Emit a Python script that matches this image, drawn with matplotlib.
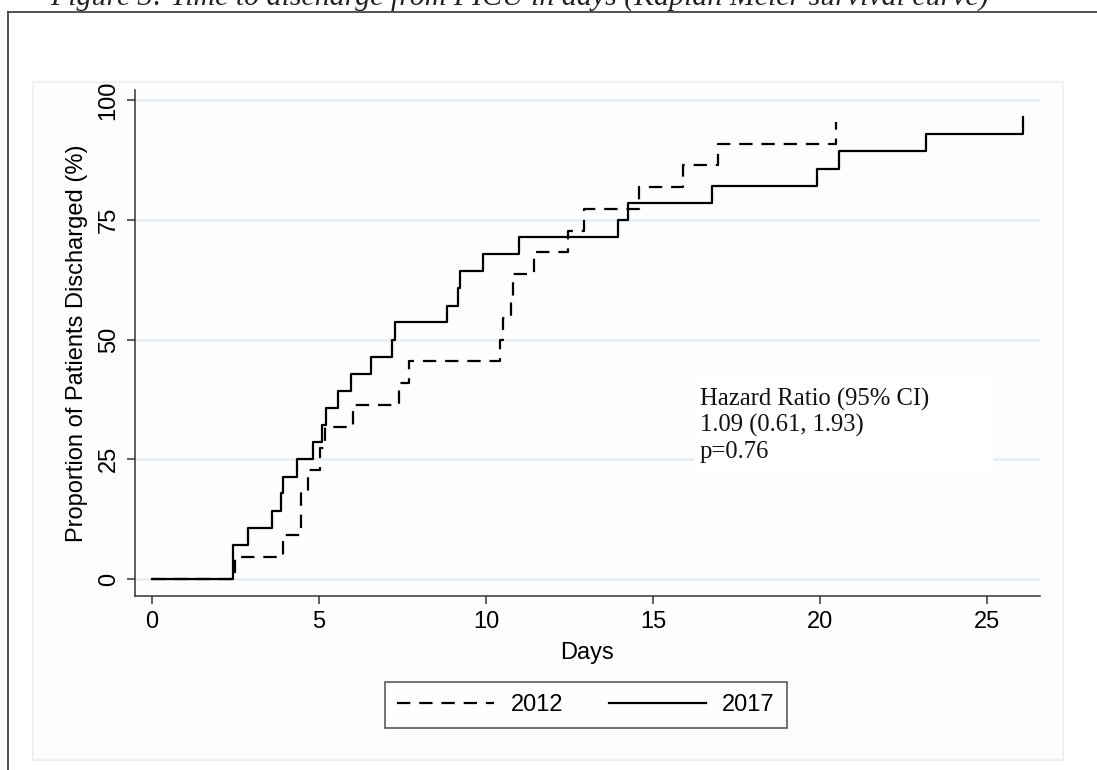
import matplotlib
matplotlib.use("Agg")
import matplotlib.pyplot as plt
from matplotlib.patches import Rectangle
import numpy as np

# Kaplan-Meier failure curves: proportion discharged (%) by day
days_2012 = [0, 2.5, 3.93, 4.46, 4.67, 5.03, 5.18, 6.03, 7.4, 7.7, 10.42, 10.5,
             10.75, 10.8, 11.45, 12.46, 12.93, 14.58, 15.9, 16.95, 20.48]
pct_2012 = [0, 4.5, 9.1, 18.2, 22.7, 27.3, 31.8, 36.4, 40.9, 45.5, 50.0, 54.5,
            59.1, 63.6, 68.2, 72.7, 77.3, 81.8, 86.4, 90.9, 95.5]

days_2017 = [0, 2.43, 2.87, 3.6, 3.86, 3.92, 4.33, 4.81, 5.09, 5.2, 5.57, 5.96,
             6.56, 7.19, 7.28, 8.83, 9.16, 9.22, 9.91, 10.99, 13.95, 14.25,
             16.77, 19.9, 20.57, 23.17, 26.08]
pct_2017 = [0, 7.1, 10.7, 14.3, 17.9, 21.4, 25.0, 28.6, 32.1, 35.7, 39.3, 42.9,
            46.4, 50.0, 53.6, 57.1, 60.7, 64.3, 67.9, 71.4, 75.0, 78.6,
            82.1, 85.7, 89.3, 92.9, 96.4]

xticks = [0, 5, 10, 15, 20, 25]
yticks = [0, 25, 50, 75, 100]
hr_text = "Hazard Ratio (95% CI)\n1.09 (0.61, 1.93)\np=0.76"

W, H = 1097, 770
plt.rcParams['font.family'] = ['Liberation Sans', 'DejaVu Sans']
fig = plt.figure(figsize=(W / 100, H / 100), dpi=100)

# outer frame (left and top edges visible)
fig.add_artist(plt.Line2D([8 / W, 8 / W], [0, 1 - 12 / H], color='#333333', lw=1.2))
fig.add_artist(plt.Line2D([8 / W, 1], [1 - 12 / H, 1 - 12 / H], color='#333333', lw=1.2))
# stata graph region
fig.add_artist(Rectangle((33 / W, 10 / H), (1063 - 33) / W, (760 - 82) / H,
                         transform=fig.transFigure, facecolor='#fcfdfe',
                         edgecolor='#edf1f5', lw=1.5, zorder=0))

# caption, cropped at the top edge as in the source
fig.text(50 / W, 1 - 6 / H,
         "Figure 3: Time to discharge from PICU in days (Kaplan Meier survival curve)",
         family='Liberation Serif', style='italic', fontsize=21.5, va='baseline',
         ha='left', color='#222222')

ax = fig.add_axes([135 / W, (H - 596) / H, 905 / W, 506 / H])
ax.set_facecolor('none')
ax.set_xlim(-0.509, 26.59)
ax.set_ylim(-3.55, 102.1)

ax.step(days_2012, pct_2012, where='post', color='black', lw=1.6,
        dashes=(6, 4), label='2012', zorder=3)
ax.step(days_2017, pct_2017, where='post', color='black', lw=1.6,
        label='2017', zorder=3)

ax.set_xticks(xticks)
ax.set_yticks(yticks)
ax.grid(axis='y', color='#e5ecf2', lw=1.8)
ax.grid(axis='x', visible=False)
ax.set_axisbelow(True)

for s in ['top', 'right']:
    ax.spines[s].set_visible(False)
for s in ['left', 'bottom']:
    ax.spines[s].set_color('#333333')
    ax.spines[s].set_linewidth(1.1)

ax.tick_params(axis='both', length=6, width=1.1, color='#333333',
               labelsize=17, pad=5)
ax.tick_params(axis='y', labelrotation=90)
for lab in ax.get_yticklabels():
    lab.set_va('center')

ax.set_xlabel("Days", fontsize=17)
ax.xaxis.set_label_coords(0.5, (596 - 653) / 506)
ax.xaxis.label.set_va('center')
ax.set_ylabel("Proportion of Patients Discharged (%)", fontsize=17)
ax.yaxis.set_label_coords((77 - 135) / 905, 0.5)
ax.yaxis.label.set_va('center')

# white patch behind the hazard ratio note
ax.add_patch(Rectangle(((695 - 135) / 905, (596 - 472) / 506), (993 - 695) / 905,
                       97 / 506, transform=ax.transAxes, facecolor='white',
                       edgecolor='none', zorder=1))
ax.text((700 - 135) / 905, (596 - 425) / 506, hr_text, transform=ax.transAxes,
        family='Liberation Serif', fontsize=17.7, va='center', ha='left',
        linespacing=1.2, color='#111111', zorder=2)

leg = fig.legend(loc='center', bbox_to_anchor=(586 / W, 1 - 705 / H), ncol=2,
                 fontsize=17, frameon=True, fancybox=False, handlelength=4.1,
                 handletextpad=0.7, columnspacing=1.95, borderpad=0.5)
leg.get_frame().set_edgecolor('#222222')
leg.get_frame().set_linewidth(1.1)

fig.savefig('out.png', dpi=100)
